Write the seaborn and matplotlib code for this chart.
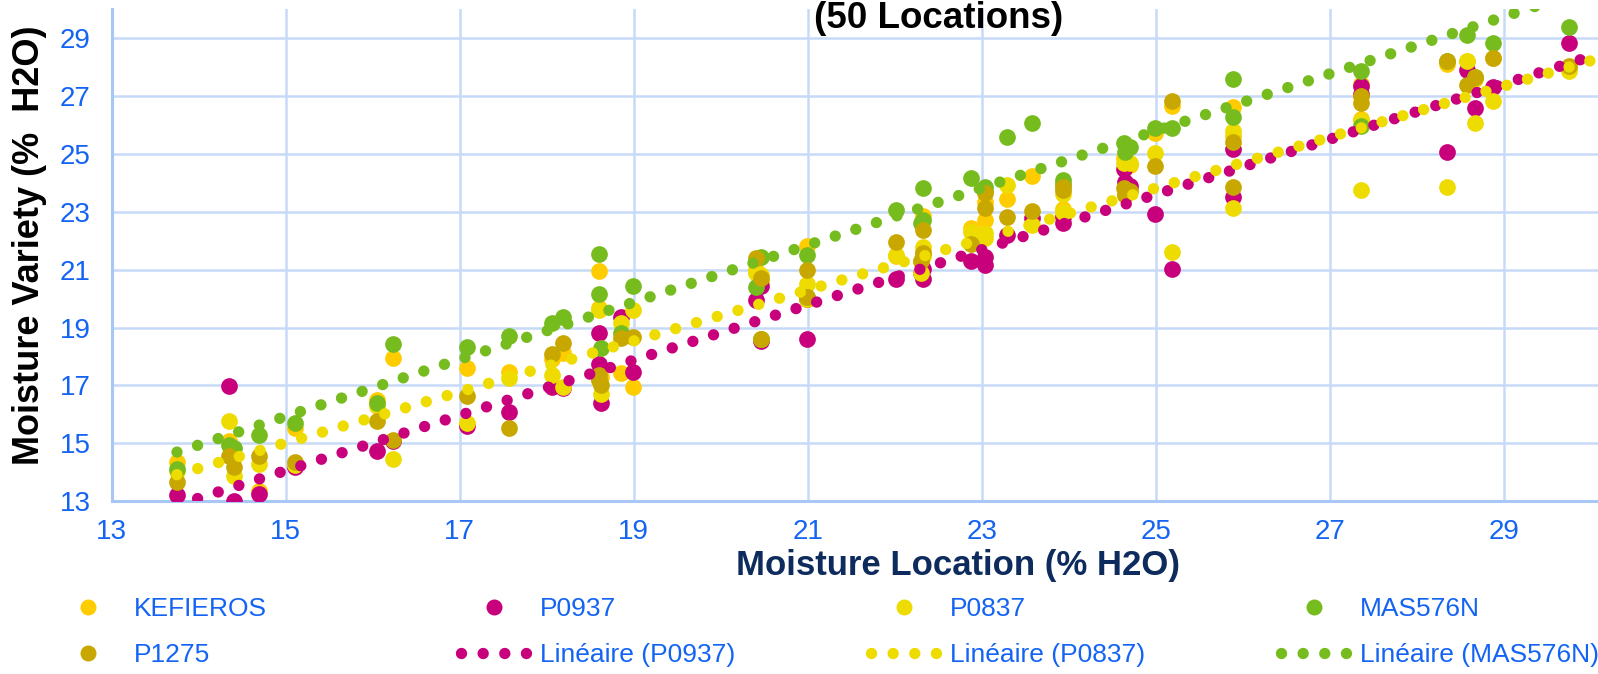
import numpy as np
import pandas as pd
import matplotlib.pyplot as plt
from matplotlib.lines import Line2D
import seaborn as sns

sns.set_style('white')
plt.rcParams['font.family'] = ['Liberation Sans', 'DejaVu Sans']

# Moisture of each location (x) and of each variety (y), % H2O
loc_x = [13.75, 14.35, 14.40, 14.69, 15.11, 16.05, 16.23, 17.08, 17.57, 18.06,
         18.19, 18.60, 18.60, 18.62, 18.85, 18.99, 20.40, 20.46, 20.46, 20.99,
         20.99, 22.01, 22.32, 22.32, 22.30, 22.88, 23.03, 23.03, 23.29, 23.57,
         23.93, 23.93, 24.63, 24.65, 24.70, 24.99, 25.18, 25.89, 25.89, 27.36,
         27.36, 28.34, 28.57, 28.67, 28.87, 29.75]

kefieros = [14.37, 15.08, 14.55, 13.35, 15.52, 16.50, 17.94, 17.59, 17.48, 17.90,
            18.11, 20.95, 19.67, 17.30, 17.42, 16.96, 21.00, 20.60, 18.60, 21.82,
            20.00, 21.47, 22.86, 21.60, 21.30, 22.43, 23.35, 22.72, 23.43, 24.24,
            23.09, 22.90, 24.85, 23.69, 24.60, 25.71, 26.65, 26.61, 25.60, 27.40,
            26.20, 28.10, 28.20, 27.60, 28.30, 28.00]

p0937 = [13.21, 16.97, 13.00, 13.26, 14.18, 14.74, 15.10, 15.60, 16.08, 16.96,
         16.90, 18.80, 17.74, 16.38, 19.36, 17.45, 19.95, 20.45, 18.55, 18.60,
         20.00, 20.68, 21.01, 20.67, 20.90, 21.31, 21.45, 21.16, 22.18, 22.77,
         22.83, 22.60, 24.47, 24.04, 23.90, 22.91, 21.02, 25.17, 23.50, 27.35,
         27.06, 25.08, 27.90, 26.57, 27.30, 28.82]

p0837 = [14.05, 15.78, 13.87, 14.28, 14.25, 16.30, 14.45, 15.69, 17.27, 17.36,
         16.96, 19.60, 17.20, 16.70, 19.15, 19.61, 20.90, 20.80, 18.60, 20.50,
         20.00, 21.50, 21.79, 21.47, 20.90, 22.31, 22.26, 22.10, 23.93, 22.54,
         23.61, 23.00, 24.68, 23.58, 24.70, 25.02, 21.62, 25.79, 23.14, 26.15,
         23.75, 23.85, 28.19, 26.08, 26.84, 27.85]

mas576n = [14.10, 14.96, 14.85, 15.28, 15.72, 16.38, 18.44, 18.34, 18.72, 19.15,
           19.38, 21.53, 20.16, 18.28, 18.80, 20.45, 20.41, 21.43, 18.60, 21.51,
           20.05, 23.06, 23.83, 22.72, 22.60, 24.16, 23.87, 23.70, 25.57, 26.06,
           24.10, 23.95, 25.37, 25.08, 25.25, 25.88, 25.88, 27.57, 26.26, 27.86,
           25.96, 28.20, 29.12, 27.64, 28.82, 29.37]

p1275 = [13.67, 14.58, 14.20, 14.58, 14.37, 15.78, 15.11, 16.64, 15.52, 18.09,
         18.48, 17.35, 17.19, 17.00, 18.63, 18.69, 21.39, 20.70, 18.60, 20.99,
         20.05, 21.97, 22.37, 21.59, 21.31, 21.88, 23.66, 23.12, 22.83, 23.03,
         23.87, 23.75, 23.81, 23.58, 23.70, 24.58, 26.84, 25.42, 23.87, 26.98,
         26.75, 28.19, 27.39, 27.64, 28.31, 28.02]

# linear trend lines (end points)
trend_x = [13.75, 31.0]
trend_p0937 = [12.87, 29.32]
trend_p0837 = [13.92, 29.10]
trend_mas576n = [14.70, 31.71]

names = ['KEFIEROS', 'P0937', 'P0837', 'MAS576N', 'P1275']
values = [kefieros, p0937, p0837, mas576n, p1275]
colors = {'KEFIEROS': '#FFCC00', 'P0937': '#C8007C', 'P0837': '#EEDC00',
          'MAS576N': '#77BC1F', 'P1275': '#C8A800'}

df = pd.concat([pd.DataFrame({'loc': loc_x, 'var': v, 'variety': n})
                for n, v in zip(names, values)], ignore_index=True)

tick_blue = '#1464F4'
grid_blue = '#C6DAF8'

fig = plt.figure(figsize=(15.98, 6.74), dpi=100)
ax = fig.add_axes([0.0699, 0.2562, 0.9301, 0.7304])

for n in names:
    sns.scatterplot(data=df[df['variety'] == n], x='loc', y='var', color=colors[n],
                    s=145, linewidth=0, ax=ax, zorder=3, legend=False)

lw_trend = 8.2
dot_style = (0, (0.001, 1.9))
trends = [('P0937', trend_p0937), ('P0837', trend_p0837), ('MAS576N', trend_mas576n)]
for n, ty in trends:
    ax.plot(trend_x, ty, color=colors[n], linewidth=lw_trend, linestyle=dot_style,
            dash_capstyle='round', zorder=4)

ax.set_xlim(13, 30.08)
ax.set_ylim(13, 30.0)
ax.set_xticks(np.arange(13, 30, 2))
ax.set_yticks(np.arange(13, 30, 2))
ax.grid(True, color=grid_blue, linewidth=1.8)
ax.set_axisbelow(True)
for s in ['top', 'right']:
    ax.spines[s].set_visible(False)
for s in ['left', 'bottom']:
    ax.spines[s].set_color('#A9C7F4')
    ax.spines[s].set_linewidth(2.2)
ax.tick_params(axis='both', length=0, labelsize=20, colors=tick_blue)
ax.tick_params(axis='y', pad=15)
ax.tick_params(axis='x', pad=13)
ax.set_xlabel('')
ax.set_ylabel('')

fig.text(957.5 / 1598, 1 - 566 / 674, 'Moisture Location (% H2O)', ha='center', va='center',
         fontsize=25, fontweight='bold', color='#0D2B5C')
fig.text(30 / 1598, 1 - 245 / 674, 'Moisture Variety (%  H2O)', ha='center', va='center',
         rotation=90, fontsize=26, fontweight='bold', color='black')
fig.text(939 / 1598, 1 - 28 / 674, '(50 Locations)', ha='center', va='baseline',
         fontsize=26.5, fontweight='bold', color='black')

# legend: 4 columns of 2 rows, equal column spacing
def dot_handle(n):
    return Line2D([], [], linestyle='none', marker='o', markersize=11.5,
                  markerfacecolor=colors[n], markeredgewidth=0)

def line_handle(n):
    return Line2D([], [], color=colors[n], linewidth=lw_trend, linestyle=dot_style,
                  dash_capstyle='round')

columns = [
    ([dot_handle('KEFIEROS'), dot_handle('P1275')], ['KEFIEROS', 'P1275']),
    ([dot_handle('P0937'), line_handle('P0937')], ['P0937', 'Linéaire (P0937)']),
    ([dot_handle('P0837'), line_handle('P0837')], ['P0837', 'Linéaire (P0837)']),
    ([dot_handle('MAS576N'), line_handle('MAS576N')], ['MAS576N', 'Linéaire (MAS576N)']),
]
col_left = [55, 461, 871, 1281]
for (h, l), xl in zip(columns, col_left):
    leg = fig.legend(h, l, loc='upper left', bbox_to_anchor=(xl / 1598, 1 - 597 / 674),
                     frameon=False, fontsize=19, handlelength=2.53, handletextpad=0.45,
                     borderpad=0, borderaxespad=0, labelspacing=0.85)
    for t in leg.get_texts():
        t.set_color(tick_blue)

fig.savefig('out.png', dpi=100)
